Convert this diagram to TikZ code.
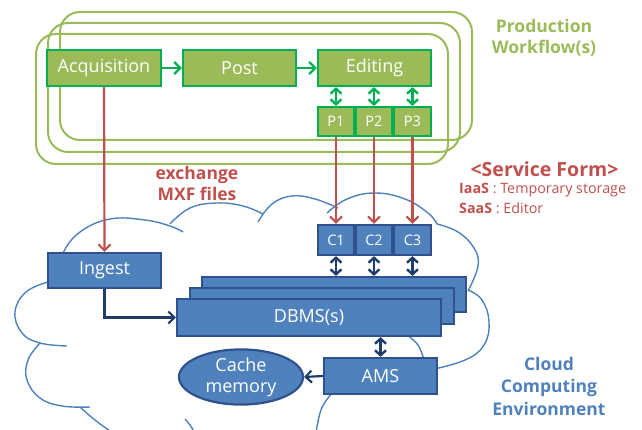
\documentclass[tikz,border=0pt]{standalone}
\usepackage{fontspec}
\setmainfont{Open Sans}
\usetikzlibrary{arrows.meta,shapes.geometric}

\definecolor{cOlive}{HTML}{9BBB59}
\definecolor{cLeaf}{HTML}{00B050}
\definecolor{cBrick}{HTML}{C0504D}
\definecolor{cSteel}{HTML}{4F81BD}
\definecolor{cEdge}{HTML}{2F528F}
\definecolor{cInk}{HTML}{1F3D6B}

\tikzset{
  wfbox/.style={draw=cLeaf, fill=cOlive, line width=2.2pt, text=white, inner sep=0pt,
    font=\fontsize{18}{20}\selectfont},
  smallwf/.style={wfbox, font=\fontsize{14.5}{16}\selectfont},
  bluebox/.style={draw=cEdge, fill=cSteel, line width=2.2pt, text=white, inner sep=0pt,
    font=\fontsize{18}{20}\selectfont},
  smallblue/.style={bluebox, font=\fontsize{14.5}{16}\selectfont},
  wfframe/.style={draw=cOlive, line width=2pt, rounded corners=20pt},
  cloudline/.style={draw=cSteel, line width=1.4pt},
  greenarrow/.style={draw=cLeaf, line width=2.4pt, -{Straight Barb[length=6pt,width=12pt]}},
  greenboth/.style={draw=cLeaf, line width=2.4pt, {Straight Barb[length=5pt,width=11pt]}-{Straight Barb[length=5pt,width=11pt]}},
  redarrow/.style={draw=cBrick, line width=2.2pt, -{Straight Barb[length=6pt,width=12pt]}},
  inkarrow/.style={draw=cInk, line width=2.2pt, -{Straight Barb[length=6pt,width=12pt]}},
  inkboth/.style={draw=cInk, line width=2.4pt, {Straight Barb[length=5pt,width=11pt]}-{Straight Barb[length=5pt,width=11pt]}},
  boldlabel/.style={font=\bfseries\fontsize{17.5}{21}\selectfont, align=center, inner sep=0pt},
}

\begin{document}
\begin{tikzpicture}[x=1pt, y=-1pt]
\useasboundingbox (0,0) rectangle (642,430);

% stacked workflow frames (back to front)
\draw[wfframe] (60,12) rectangle (472,140);
\draw[wfframe] (48,23) rectangle (460,152);
\draw[wfframe] (36,34) rectangle (448,164);

% cloud outline, made of separate puffs
\begin{scope}
\clip (0,0) rectangle (642,430);
\draw[cloudline] plot[smooth, tension=0.7] coordinates {(48,282) (26,292) (15,312) (22,333) (40,343) (67,346)};
\draw[cloudline] plot[smooth, tension=0.7] coordinates {(40,343) (28,360) (27,380) (40,398) (62,406) (90,407)};
\draw[cloudline] plot[smooth, tension=0.7] coordinates {(80,407) (95,420) (112,432) (130,440)};
\draw[cloudline] plot[smooth, tension=0.7] coordinates {(185,419) (192,428) (196,438)};
\draw[cloudline] plot[smooth, tension=0.7] coordinates {(60,270) (63,253) (80,232) (110,219) (145,220) (170,226) (183,232)};
\draw[cloudline] plot[smooth, tension=0.7] coordinates {(170,224) (190,208) (217,203) (243,206) (263,214)};
\draw[cloudline] plot[smooth, tension=0.7] coordinates {(258,222) (272,204) (292,196) (315,199) (338,208)};
\draw[cloudline] plot[smooth, tension=0.7] coordinates {(327,213) (347,199) (375,193) (405,199) (428,213) (437,224)};
\draw[cloudline] plot[smooth, tension=0.7] coordinates {(437,224) (458,232) (474,248) (478,266) (468,291)};
\draw[cloudline] plot[smooth, tension=0.7] coordinates {(468,290) (482,300) (489,322) (484,345) (465,360) (430,370)};
\draw[cloudline] plot[smooth, tension=0.7] coordinates {(407,335) (418,345) (424,360)};
\draw[cloudline] plot[smooth, tension=0.7] coordinates {(340,385) (328,398) (320,413) (315,440)};
\end{scope}

% production workflow boxes
\node[wfbox, minimum width=114pt, minimum height=36pt] (acq) at (104,68) {Acquisition};
\node[wfbox, minimum width=113pt, minimum height=36pt] (post) at (239.5,68) {Post};
\node[wfbox, minimum width=113pt, minimum height=36pt] (edit) at (374.5,68) {Editing};
\node[smallwf, minimum width=36pt, minimum height=29pt] (p1) at (336,121.5) {P1};
\node[smallwf, minimum width=36pt, minimum height=29pt] (p2) at (374,121.5) {P2};
\node[smallwf, minimum width=37pt, minimum height=29pt] (p3) at (412.5,121.5) {P3};

% cloud side boxes
\node[smallblue, minimum width=36pt, minimum height=30pt] (c1) at (336,240) {C1};
\node[smallblue, minimum width=36pt, minimum height=30pt] (c2) at (374,240) {C2};
\node[smallblue, minimum width=37pt, minimum height=30pt] (c3) at (412.5,240) {C3};
\node[bluebox, minimum width=113pt, minimum height=35pt] (ingest) at (104.5,270.5) {Ingest};
\node[bluebox, minimum width=264pt, minimum height=35pt] (dbmsC) at (334,294.5) {};
\node[bluebox, minimum width=264pt, minimum height=36pt] (dbmsB) at (322,306) {};
\node[bluebox, minimum width=264pt, minimum height=37pt] (dbmsA) at (309,317.5) {DBMS(s)};
\node[bluebox, minimum width=113pt, minimum height=36pt] (ams) at (380.5,376) {AMS};
\node[bluebox, ellipse, minimum width=124pt, minimum height=46pt, align=center,
  font=\fontsize{18}{21}\selectfont] (cache) at (241,377) {Cache\\memory};

% workflow connectors
\draw[greenarrow] (acq.east) -- (post.west);
\draw[greenarrow] (post.east) -- (edit.west);
\foreach \p in {p1,p2,p3}
  \draw[greenboth] (\p.north |- edit.south) -- (\p.north);

% exchange of MXF files
\draw[redarrow] (acq.south) -- (ingest.north);
\draw[redarrow] (p1.south) -- (c1.north);
\draw[redarrow] (p2.south) -- (c2.north);
\draw[redarrow] (p3.south) -- (c3.north);

% cloud connectors
\draw[inkarrow] (ingest.south) |- (dbmsA.west);
\foreach \c in {c1,c2,c3}
  \draw[inkboth] (\c.south) -- (\c.south |- dbmsC.north);
\draw[inkboth] (ams.north |- dbmsA.south) -- (ams.north);
\draw[inkarrow] (ams.west) -- (cache.east);

% labels
\node[boldlabel, text=cOlive] (prod) at (544,38) {Production\\Workflow(s)};
\node[boldlabel, text=cBrick] (mxf) at (197,183) {exchange\\MXF files};
\node[boldlabel, text=cBrick, font=\bfseries\fontsize{19.5}{22}\selectfont] (svc) at (544.5,169) {<Service Form>};
\node[anchor=west, inner sep=0pt, text=cBrick, font=\fontsize{14.3}{16}\selectfont] (iaas) at (459,190) {\textbf{IaaS} : Temporary storage};
\node[anchor=west, inner sep=0pt, text=cBrick, font=\fontsize{14.3}{16}\selectfont] (saas) at (459,208) {\textbf{SaaS} : Editor};
\node[boldlabel, text=cSteel, font=\bfseries\fontsize{17.5}{22.5}\selectfont] (cce) at (549,386) {Cloud\\Computing\\Environment};
\end{tikzpicture}
\end{document}
